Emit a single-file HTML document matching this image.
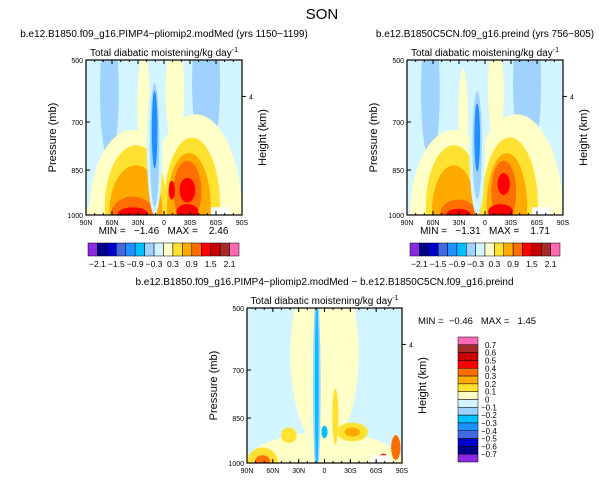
<!DOCTYPE html>
<html><head><meta charset="utf-8">
<style>
body{margin:0;background:#fff;}
svg text{font-family:"Liberation Sans",sans-serif;fill:#000;white-space:pre;}
</style></head>
<body>
<svg id="root" width="611" height="482" xmlns="http://www.w3.org/2000/svg">
<text x="322" y="19" font-size="15" text-anchor="middle">SON</text>
</svg>
<script>
const NS="http://www.w3.org/2000/svg";
const root=document.getElementById('root');
// data
const fullLevels=["-2.1","-1.5","-0.9","-0.3","0.3","0.9","1.5","2.1"];
const diffLevels=["0.7","0.6","0.5","0.4","0.3","0.2","0.1","0","-0.1","-0.2","-0.3","-0.4","-0.5","-0.6","-0.7"];
const palette=["#8a2be2","#00008b","#0000cd","#4169e1","#1e90ff","#00bfff","#a0d2ff","#d2f5ff","#ffffc8","#ffe132","#ffaa00","#ff6e00","#ff0000","#c80000","#a52a2a","#ff69b4"];
const lonLabels=["90N","60N","30N","0","30S","60S","90S"];
const presLabels=["500","700","850","1000"];
const presFrac=[0,0.4,0.71,1];
// field blobs: [lonFrac, presFrac, rx, ry, colorIndex]
const fieldA=[[0.15,0.2,0.06,0.45,6],[0.77,0.15,0.09,0.5,6],
[0.3,1.0,0.28,0.55,8],[0.7,1.0,0.3,0.65,8],[0.37,0.3,0.04,0.35,8],[0.57,0.2,0.06,0.35,8],[0.15,1.0,0.15,0.12,8],
[0.32,0.95,0.2,0.4,9],[0.68,0.95,0.18,0.45,9],[0.32,0.98,0.17,0.3,10],[0.66,0.95,0.14,0.35,10],[0.3,1.0,0.14,0.12,11],[0.65,0.85,0.09,0.2,11],[0.65,0.84,0.05,0.08,12],[0.3,1.0,0.1,0.05,12],[0.55,0.84,0.02,0.06,12],[0.65,0.98,0.07,0.05,12],
[0.44,0.55,0.05,0.45,7],[0.44,0.55,0.03,0.4,6],[0.44,0.45,0.018,0.25,4]];
const fieldB=[[0.15,0.2,0.06,0.45,6],[0.77,0.15,0.09,0.5,6],
[0.3,1.0,0.28,0.55,8],[0.7,1.0,0.3,0.65,8],[0.57,0.2,0.05,0.35,8],[0.36,0.35,0.03,0.3,8],
[0.3,0.95,0.18,0.4,9],[0.66,0.95,0.18,0.45,9],[0.3,0.98,0.14,0.3,10],[0.64,0.95,0.13,0.35,10],[0.33,1.0,0.12,0.1,11],[0.62,0.85,0.08,0.2,11],[0.62,0.8,0.04,0.07,12],[0.33,1.0,0.08,0.04,12],[0.6,0.98,0.08,0.05,12],
[0.45,0.58,0.05,0.42,7],[0.45,0.55,0.03,0.35,6],[0.45,0.5,0.018,0.22,4]];
const fieldC=[[0.5,0.3,0.22,0.6,8],[0.5,1.0,0.5,0.2,8],[0.1,1.0,0.1,0.1,9],[0.45,0.5,0.025,0.6,6],[0.45,0.5,0.012,0.55,5],[0.5,0.8,0.02,0.04,5],
[0.57,0.7,0.02,0.18,9],[0.27,0.82,0.05,0.05,9],[0.68,0.8,0.1,0.06,9],[0.68,0.8,0.05,0.03,10],[0.1,0.99,0.05,0.04,11],[0.96,0.9,0.03,0.08,11],[0.88,0.97,0.03,0.03,12]];
const fieldAmin="-1.46",fieldAmax="2.46",fieldBmin="-1.31",fieldBmax="1.71";

function el(tag,attrs,parent,name,txt){const e=document.createElementNS(NS,tag);for(const k in attrs)e.setAttribute(k,attrs[k]);


if(txt!==undefined)e.textContent=txt;(parent||root).appendChild(e);return e;}

function panel(id,x0,y0,w,h,field,title){
  const g=el('g',{},root,id);
  el('text',{x:x0+w/2,y:y0-23,'font-size':10,'text-anchor':'middle'},g,id+'-title',title);
  const s=el('text',{x:x0+w/2,y:y0-4,'font-size':10,'text-anchor':'middle'},g,id+'-subtitle','Total diabatic moistening/kg day');
  el('tspan',{dy:-4,'font-size':7},s,'superscript','-1');
  el('clipPath',{id:'c'+id},g,'clip');
  el('rect',{x:x0,y:y0,width:w,height:h},document.getElementById('c'+id),'clip-rect');
  const f=el('g',{'clip-path':'url(#c'+id+')'},g,id+'-field');
  el('rect',{x:x0,y:y0,width:w,height:h,fill:palette[7]},f,'field-background');
  field.forEach(b=>el('ellipse',{cx:x0+b[0]*w,cy:y0+b[1]*h,rx:b[2]*w,ry:b[3]*h,fill:palette[b[4]]},f,'contour-region'));
  el('rect',{x:x0+0.8*w,y:y0+0.95*h,width:0.12*w,height:0.05*h,fill:'#fff'},f,'missing-data');
  el('rect',{x:x0,y:y0,width:w,height:h,fill:'none',stroke:'#000','stroke-width':1.2},g,id+'-frame');
  lonLabels.forEach((l,i)=>{const x=x0+i*w/6;
    el('line',{x1:x,y1:y0+h,x2:x,y2:y0+h-4,stroke:'#000'},g,'x-tick');
    el('line',{x1:x,y1:y0,x2:x,y2:y0+4,stroke:'#000'},g,'x-tick');
    el('text',{x:x,y:y0+h+10,'font-size':7,'text-anchor':'middle'},g,'x-tick-label',l);});
  for(let i=0;i<=18;i++){const x=x0+i*w/18;el('line',{x1:x,y1:y0+h,x2:x,y2:y0+h-2,stroke:'#000'},g,'x-minor-tick');el('line',{x1:x,y1:y0,x2:x,y2:y0+2,stroke:'#000'},g,'x-minor-tick');}
  presLabels.forEach((l,i)=>{const y=y0+presFrac[i]*h;
    el('line',{x1:x0,y1:y,x2:x0+4,y2:y,stroke:'#000'},g,'y-tick');
    el('text',{x:x0-3,y:y+3,'font-size':7,'text-anchor':'end'},g,'y-tick-label',l);});
  el('line',{x1:x0+w,y1:y0+0.235*h,x2:x0+w+4,y2:y0+0.235*h,stroke:'#000'},g,'height-tick');
  el('text',{x:x0+w+7,y:y0+0.235*h+3,'font-size':7},g,'height-tick-label','4');
  el('text',{x:0,y:0,'font-size':11,'text-anchor':'middle',transform:`translate(${x0-30},${y0+h/2}) rotate(-90)`},g,'y-axis-title','Pressure (mb)');
  el('text',{x:0,y:0,'font-size':11,'text-anchor':'middle',transform:`translate(${x0+w+24},${y0+h/2}) rotate(-90)`},g,'right-axis-title','Height (km)');
}
function hbar(x0,y0,w,minv,maxv){
  const g=el('g',{},root,'colorbar');
  el('text',{x:x0+w/2,y:y0-1,'font-size':10,'text-anchor':'middle'},g,'min-max-label','MIN =   '+minv.replace('-','\u2212')+'   MAX =    '+maxv);
  const bw=w/16;
  palette.forEach((c,i)=>el('rect',{x:x0+i*bw,y:y0+8,width:bw,height:13,fill:c,stroke:'#000','stroke-width':0.5},g,'colorbar-box'));
  fullLevels.forEach((l,i)=>el('text',{x:x0+(1+2*i)*bw,y:y0+32,'font-size':8.5,'text-anchor':'middle'},g,'colorbar-label',l.replace('-','\u2212')));
}
panel('panel-a',86,60,156,155,fieldA,'b.e12.B1850.f09_g16.PIMP4\u2212pliomip2.modMed (yrs 1150\u22121199)');
hbar(88,235,151,fieldAmin,fieldAmax);
panel('panel-b',407,60,156,155,fieldB,'b.e12.B1850C5CN.f09_g16.preind (yrs 756\u2212805)');
hbar(410,235,150,fieldBmin,fieldBmax);
panel('panel-c',247,308,155,155,fieldC,'b.e12.B1850.f09_g16.PIMP4\u2212pliomip2.modMed \u2212 b.e12.B1850C5CN.f09_g16.preind');
// vertical bar
const vg=el('g',{},root,'diff-colorbar');
el('text',{x:418,y:324,'font-size':9.5},vg,'diff-min-max','MIN =  \u22120.46   MAX =   1.45');
const bh=125/16;
palette.slice().reverse().forEach((c,i)=>el('rect',{x:458,y:337+i*bh,width:20,height:bh,fill:c,stroke:'#000','stroke-width':0.5},vg,'diff-colorbar-box'));
diffLevels.forEach((l,i)=>el('text',{x:l.startsWith('-')?481:485,y:337+(i+1)*bh+3,'font-size':8},vg,'diff-colorbar-label',l.replace('-','\u2212')));
</script>
</body></html>
